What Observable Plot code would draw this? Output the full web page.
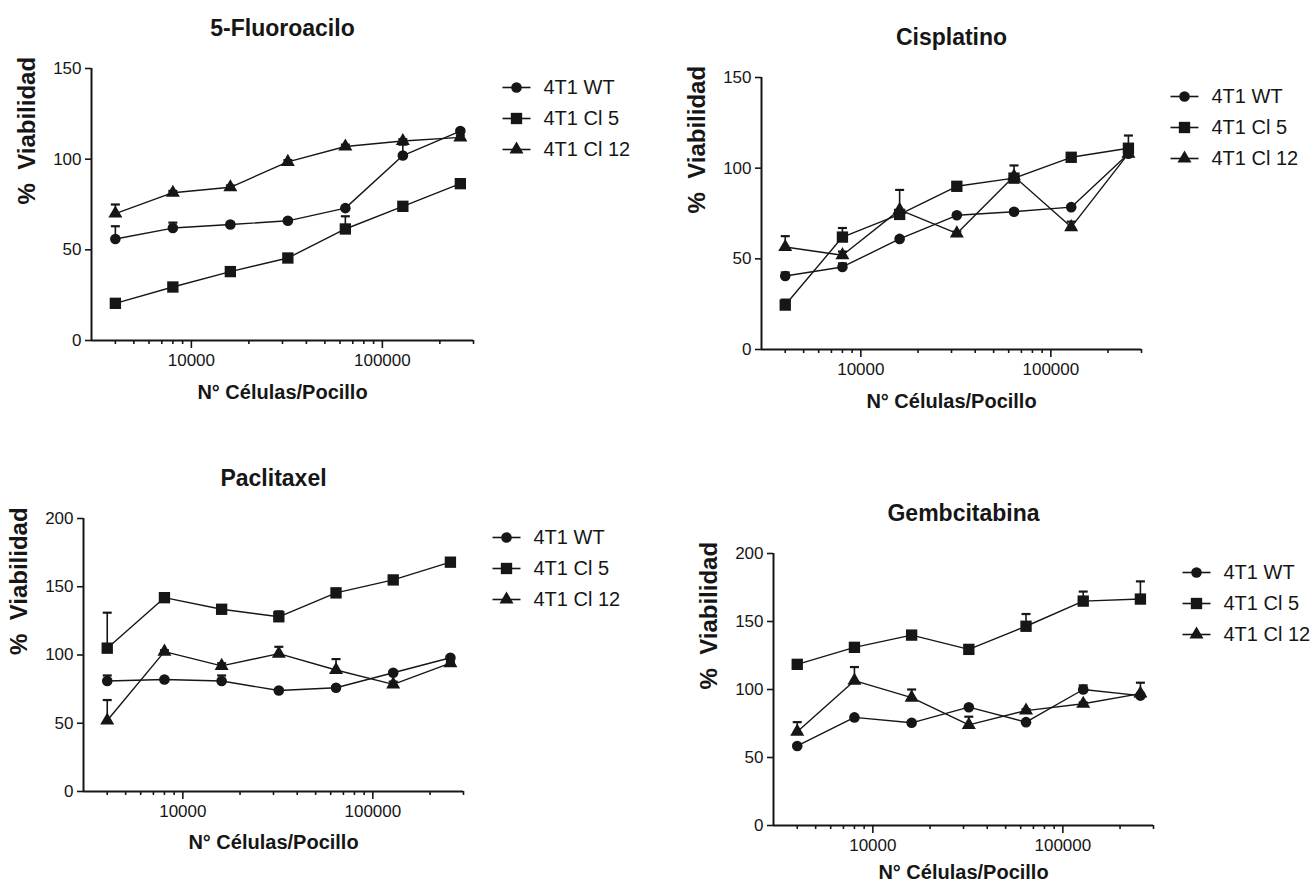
<!DOCTYPE html>
<html><head><meta charset="utf-8">
<script src="https://cdn.jsdelivr.net/npm/d3@7"></script>
<script src="https://cdn.jsdelivr.net/npm/@observablehq/plot@0.6"></script>
<style>
html,body{margin:0;padding:0;background:#fff;}
#chart{position:relative;width:1312px;height:885px;overflow:hidden;background:#fff;}
#chart svg{position:absolute;overflow:visible;}
</style></head><body><div id="chart"></div>
<script>
// ---- data ----
const cells = [4000, 8000, 16000, 32000, 64000, 128000, 256000];
const seriesNames = ["4T1 WT", "4T1 Cl 5", "4T1 Cl 12"];
const seriesSymbols = ["circle", "square", "triangle"];
const xDomain = [3000, 300000];
const xMajorTicks = [10000, 100000];
const xMinorTicks = [4000, 5000, 6000, 7000, 8000, 9000, 20000, 30000, 40000, 50000, 60000, 70000, 80000, 90000, 200000, 300000];
const yTicks150 = [0, 50, 100, 150];
const yTicks200 = [0, 50, 100, 150, 200];
const titles = ["5-Fluoroacilo", "Cisplatino", "Paclitaxel", "Gembcitabina"];
const xLabel = "N° Células/Pocillo";
const yLabel = "%  Viabilidad";

// 5-Fluoroacilo
const fluWT = [56, 62, 64, 66, 73, 102, 115.5];
const fluWTErr = [7, 3, 1, 1, 1, 6, 1];
const fluCl5 = [20.5, 29.5, 38, 45.5, 61.5, 74, 86.5];
const fluCl5Err = [1, 1, 1, 1, 7, 1, 1];
const fluCl12 = [70, 81.5, 84.5, 98.5, 107, 110, 112];
const fluCl12Err = [5, 1, 1, 1, 1, 1, 1];
// Cisplatino
const cisWT = [40.5, 45.5, 61, 74, 76, 78.5, 108];
const cisWTErr = [2, 2, 1, 1, 1, 1, 1];
const cisCl5 = [24.5, 62, 74.5, 90, 94.5, 106, 111];
const cisCl5Err = [3, 5, 2, 2, 1, 1, 7];
const cisCl12 = [56.5, 52, 77, 64, 95.5, 67.5, 108];
const cisCl12Err = [6, 2, 11, 1, 6, 3, 2];
// Paclitaxel
const pacWT = [81, 82, 81, 74, 76, 87, 98];
const pacWTErr = [4, 1, 4, 1, 1, 1, 1];
const pacCl5 = [105, 142, 133.5, 128, 145.5, 155, 168];
const pacCl5Err = [26, 1, 2, 4, 3, 1, 1];
const pacCl12 = [52, 102.5, 92, 101, 89, 78.5, 94];
const pacCl12Err = [15, 1, 2, 5, 8, 2, 1];
// Gembcitabina
const gemWT = [58.5, 79.5, 75.5, 87, 76, 100, 95.5];
const gemWTErr = [1, 1, 1, 1, 1, 3, 1];
const gemCl5 = [118.5, 131, 140, 129.5, 146.5, 165, 166.5];
const gemCl5Err = [1, 1, 1, 1, 9, 7, 13];
const gemCl12 = [69, 106.5, 94, 74, 84.5, 89.5, 97];
const gemCl12Err = [7, 10, 6, 6, 1, 1, 8];

// ---- layout ----
const panels = [
  {title: titles[0], vals: [fluWT, fluCl5, fluCl12], errs: [fluWTErr, fluCl5Err, fluCl12Err], yMax: 150, yTicks: yTicks150,
   left: 0, top: 0, width: 656, height: 430, m: [68, 183, 90, 91], xlDy: 52},
  {title: titles[1], vals: [cisWT, cisCl5, cisCl12], errs: [cisWTErr, cisCl5Err, cisCl12Err], yMax: 150, yTicks: yTicks150,
   left: 656, top: 0, width: 656, height: 430, m: [77, 171, 81, 105], xlDy: 52},
  {title: titles[2], vals: [pacWT, pacCl5, pacCl12], errs: [pacWTErr, pacCl5Err, pacCl12Err], yMax: 200, yTicks: yTicks200,
   left: 0, top: 440, width: 656, height: 445, m: [78, 193, 94, 83], xlDy: 51},
  {title: titles[3], vals: [gemWT, gemCl5, gemCl12], errs: [gemWTErr, gemCl5Err, gemCl12Err], yMax: 200, yTicks: yTicks200,
   left: 656, top: 440, width: 656, height: 445, m: [113, 159, 60, 117], xlDy: 47}
];

const symbolR = {circle: 5.3, square: 6.4, triangle: 5.2};
const capSymbol = {draw(ctx) { ctx.moveTo(-4.5, 0); ctx.lineTo(4.5, 0); }};
const legendLine = {draw(ctx) { ctx.moveTo(-14, 0); ctx.lineTo(14, 0); }};
const ink = "#161616";
const font = "'Liberation Sans', Arial, Helvetica, sans-serif";

const chart = document.getElementById("chart");

for (const p of panels) {
  const marks = [];
  // axis lines
  marks.push(Plot.ruleY([0], {stroke: ink, strokeWidth: 2}));
  marks.push(Plot.ruleX([xDomain[0]], {stroke: ink, strokeWidth: 2}));
  // axes
  marks.push(Plot.axisY(p.yTicks, {tickSize: 6, tickPadding: 4, fontSize: 17, label: null, strokeWidth: 1.6, tickFormat: d => String(d)}));
  marks.push(Plot.axisX(xMinorTicks, {tickSize: 4, tickFormat: () => "", label: null, strokeWidth: 1.6}));
  marks.push(Plot.axisX(xMajorTicks, {tickSize: 8, tickPadding: 5, fontSize: 17, label: null, strokeWidth: 1.6, tickFormat: d => String(d)}));

  seriesNames.forEach((name, i) => {
    const rows = cells.map((c, j) => ({cells: c, v: p.vals[i][j], e: p.errs[i][j]}));
    const sym = seriesSymbols[i];
    marks.push(Plot.line(rows, {x: "cells", y: "v", stroke: ink, strokeWidth: 1.4}));
    marks.push(Plot.ruleX(rows, {x: "cells", y1: "v", y2: d => d.v + d.e, stroke: ink, strokeWidth: 1.6}));
    marks.push(Plot.dot(rows, {x: "cells", y: d => d.v + d.e, symbol: capSymbol, r: 4, stroke: ink, strokeWidth: 2.2, fill: "none"}));
    marks.push(Plot.dot(rows, {x: "cells", y: "v", symbol: sym, r: symbolR[sym], fill: ink, stroke: "none"}));
    // legend entry
    const dy = 19 + 31 * i;
    marks.push(Plot.dot([name], {frameAnchor: "top-right", dx: 43, dy, symbol: legendLine, r: 4, stroke: ink, strokeWidth: 1.6, fill: "none"}));
    marks.push(Plot.dot([name], {frameAnchor: "top-right", dx: 43, dy, symbol: sym, r: symbolR[sym], fill: ink, stroke: "none"}));
    marks.push(Plot.text([name], {frameAnchor: "top-right", dx: 70, dy, text: d => d, textAnchor: "start", lineAnchor: "middle", fontSize: 20, fill: ink}));
  });

  // title and axis labels
  marks.push(Plot.text([p.title], {frameAnchor: "top", dy: -40, text: d => d, lineAnchor: "middle", fontSize: 23, fontWeight: "bold", fill: ink}));
  marks.push(Plot.text([xLabel], {frameAnchor: "bottom", dy: p.xlDy, text: d => d, lineAnchor: "middle", fontSize: 20, fontWeight: "bold", fill: ink}));
  marks.push(Plot.text([yLabel], {frameAnchor: "left", dx: -64, rotate: -90, text: d => d, lineAnchor: "middle", fontSize: 24, fontWeight: "bold", fill: ink}));

  const svg = Plot.plot({
    width: p.width,
    height: p.height,
    marginTop: p.m[0], marginRight: p.m[1], marginBottom: p.m[2], marginLeft: p.m[3],
    x: {type: "log", domain: xDomain},
    y: {domain: [0, p.yMax]},
    style: {fontFamily: font, color: ink, background: "transparent", overflow: "visible"},
    marks
  });
  svg.style.position = "absolute";
  svg.style.left = p.left + "px";
  svg.style.top = p.top + "px";
  svg.style.maxWidth = "none";
  chart.appendChild(svg);
}
</script></body></html>
